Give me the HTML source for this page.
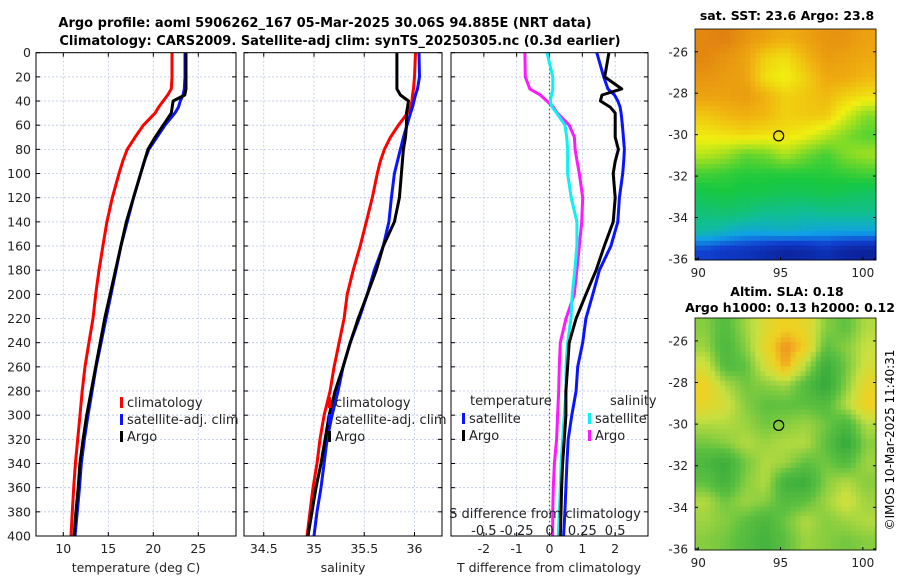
<!DOCTYPE html>
<html><head><meta charset="utf-8"><style>
body{margin:0;background:#fff;width:900px;height:580px;overflow:hidden}
svg{display:block;font-family:"DejaVu Sans","Liberation Sans",sans-serif}
</style></head><body>
<svg id="chart" width="900" height="580" viewBox="0 0 900 580" xmlns="http://www.w3.org/2000/svg">
<text x="325" y="27" font-size="13" font-weight="bold" text-anchor="middle">Argo profile: aoml 5906262_167 05-Mar-2025 30.06S 94.885E (NRT data)</text>
<text x="340" y="45" font-size="13" font-weight="bold" text-anchor="middle">Climatology: CARS2009. Satellite-adj clim: synTS_20250305.nc (0.3d earlier)</text>
<text x="787" y="20" font-size="12.5" font-weight="bold" text-anchor="middle">sat. SST: 23.6 Argo: 23.8</text>
<text x="787" y="296" font-size="12.5" font-weight="bold" text-anchor="middle">Altim. SLA: 0.18</text>
<text x="790" y="312" font-size="12.5" font-weight="bold" text-anchor="middle">Argo h1000: 0.13 h2000: 0.12</text>
<text transform="translate(894,440) rotate(-90)" font-size="12" text-anchor="middle">©IMOS 10-Mar-2025 11:40:31</text>
<g id="g"></g>
</svg>
<script>
const depths=[0,20,30,35,40,45,50,60,70,80,90,100,120,140,160,180,200,220,240,260,280,300,320,340,360,380,400];
const tClim=[22.08,22.08,22.0,21.6,21.1,20.6,20.2,18.9,17.97,17.1,16.6,16.19,15.45,14.85,14.4,13.97,13.6,13.3,12.85,12.41,12.1,11.86,11.6,11.35,11.15,11.0,10.86];
const tSat=[23.52,23.52,23.45,23.3,23.0,22.8,22.4,21.3,20.4,19.5,19.0,18.6,17.8,17.1,16.4,15.86,15.3,14.75,14.2,13.64,13.2,12.75,12.35,12.0,11.8,11.55,11.3];
const tArgo=[23.63,23.63,23.63,23.5,22.2,22.1,22.0,21.1,20.2,19.4,19.0,18.6,17.8,17.0,16.4,15.8,15.2,14.6,14.1,13.6,13.1,12.6,12.2,11.85,11.65,11.4,11.2];
const sClim=[36.01,36.0,35.99,35.98,35.975,35.96,35.93,35.84,35.76,35.70,35.66,35.63,35.58,35.52,35.46,35.39,35.33,35.30,35.25,35.20,35.16,35.10,35.06,35.03,34.99,34.96,34.93];
const sSat=[36.045,36.05,36.03,36.01,35.995,35.98,35.96,35.925,35.89,35.86,35.83,35.80,35.77,35.745,35.69,35.6,35.53,35.45,35.36,35.29,35.24,35.18,35.13,35.10,35.07,35.03,35.0];
const sArgo=[35.825,35.825,35.825,35.86,35.94,35.93,35.92,35.92,35.91,35.89,35.88,35.87,35.85,35.8,35.69,35.62,35.53,35.44,35.36,35.29,35.21,35.15,35.11,35.07,35.02,34.98,34.94];
const dTSat=[1.44,1.65,1.78,1.98,2.08,2.15,2.18,2.22,2.25,2.28,2.26,2.23,2.13,2.08,1.87,1.52,1.32,1.11,1.01,0.86,0.81,0.68,0.57,0.53,0.5,0.47,0.43];
const dTArgo=[1.81,1.68,2.2,1.6,1.55,1.85,2.0,2.0,2.0,2.1,2.0,1.94,2.0,1.94,1.67,1.42,1.11,0.81,0.6,0.55,0.5,0.5,0.45,0.4,0.37,0.35,0.33];
const dSSat=[-0.019,0.025,0.025,0.015,0.005,0.02,0.055,0.118,0.131,0.138,0.138,0.138,0.165,0.209,0.209,0.193,0.173,0.164,0.138,0.126,0.126,0.113,0.1,0.088,0.082,0.075,0.067];
const dSArgo=[-0.187,-0.184,-0.15,-0.07,-0.02,0.03,0.06,0.15,0.19,0.195,0.21,0.227,0.253,0.245,0.227,0.209,0.189,0.126,0.082,0.075,0.07,0.062,0.054,0.037,0.029,0.024,0.024];
const depthTicks=[0,20,40,60,80,100,120,140,160,180,200,220,240,260,280,300,320,340,360,380,400];
const tTicks=[10,15,20,25];
const sTicks=[34.5,35,35.5,36];
const dTTicks=[-2,-1,0,1,2];
const dSTickVals=[-0.5,-0.25,0,0.25,0.5];
const dSTickLabels=["-0.5","-0.25","0","0.25","0.5"];
const sstLonTicks=[90,95,100];
const latTicks=[-26,-28,-30,-32,-34,-36];
const sstGrid=[
[25.2,25.3,25.0,24.8,24.6,24.8,25.0,25.0,24.8],
[25.2,25.0,24.8,24.2,24.0,24.5,24.9,24.8,24.7],
[25.0,24.9,24.8,24.0,23.8,24.2,24.7,24.7,24.5],
[24.8,24.8,24.9,24.6,24.2,24.3,24.5,24.2,24.0],
[24.3,24.5,24.6,24.5,24.2,24.3,24.3,23.6,23.0],
[23.9,24.0,24.1,24.0,24.0,23.8,23.4,23.0,22.7],
[23.4,23.2,22.8,22.9,23.3,22.9,22.6,23.0,23.2],
[22.6,22.5,22.4,22.4,22.4,22.4,22.4,22.5,22.6],
[22.2,22.3,22.2,22.2,22.1,22.1,22.2,22.1,22.0],
[21.8,21.9,21.8,21.6,21.6,21.5,21.6,21.6,21.6],
[21.4,21.2,21.0,21.0,21.1,21.0,20.9,20.9,20.9],
[20.0,19.8,19.7,19.5,19.3,19.4,19.6,19.3,19.2]];
const slaGrid=[
[.5,.35,.55,.75,.85,.8,.5,.4,.6],
[.55,.3,.5,.8,1.0,.85,.4,.5,.65],
[.7,.35,.4,.7,.95,.6,.2,.45,.7],
[.85,.6,.45,.5,.55,.35,.15,.5,.8],
[.8,.7,.5,.4,.4,.4,.35,.6,.85],
[.6,.6,.55,.45,.5,.55,.45,.3,.6],
[.45,.5,.6,.55,.6,.6,.4,.15,.5],
[.3,.2,.45,.6,.55,.4,.45,.35,.55],
[.4,.25,.5,.6,.25,.2,.5,.6,.5],
[.6,.45,.55,.5,.35,.4,.55,.7,.55],
[.55,.5,.4,.3,.45,.6,.5,.55,.6],
[.5,.45,.35,.25,.4,.55,.5,.45,.5]];
const argoPos=[94.885,-30.06];

const NS='http://www.w3.org/2000/svg',G=document.getElementById('g');
function el(t,a,p){const e=document.createElementNS(NS,t);for(const k in a)e.setAttribute(k,a[k]);(p||G).appendChild(e);return e;}
function txt(s,x,y,a,p){const e=el('text',Object.assign({x:x,y:y,'font-size':12.5,fill:'#222'},a||{}),p);e.textContent=s;return e;}
const Y0=52.7,Y1=536;
const yD=d=>Y0+d*(Y1-Y0)/400;
function panel(name,x0,x1,xs,ticks,labels,showY){
  const g=el('g',{});
  
  
  depthTicks.forEach(d=>{const l=el('line',{x1:x0,x2:x1,y1:yD(d),y2:yD(d),stroke:'#b8c4e8','stroke-width':0.8,'stroke-dasharray':'2,2'},g);
    
    el('line',{x1:x0,x2:x0+4,y1:yD(d),y2:yD(d),stroke:'#000'},g);el('line',{x1:x1-4,x2:x1,y1:yD(d),y2:yD(d),stroke:'#000'},g);
    if(showY){const t=txt(String(d),x0-5,yD(d)+4.5,{'text-anchor':'end'},g);}});
  ticks.forEach((v,i)=>{const x=xs(v);const l=el('line',{x1:x,x2:x,y1:Y0,y2:Y1,stroke:'#b8c4e8','stroke-width':0.8,'stroke-dasharray':'2,2'},g);
    
    el('line',{x1:x,x2:x,y1:Y1,y2:Y1-4,stroke:'#000'},g);el('line',{x1:x,x2:x,y1:Y0,y2:Y0+4,stroke:'#000'},g);
    const t=txt(labels[i],x,Y1+17,{'text-anchor':'middle'},g);});
  return g;
}
function line(vals,xs,color,name,g){
  const d=vals.map((v,i)=>(i?'L':'M')+xs(v).toFixed(1)+','+yD(depths[i]).toFixed(1)).join('');
  const p=el('path',{d:d,fill:'none',stroke:color,'stroke-width':3,'stroke-linejoin':'round'},g);
  
  
}
function frame(x0,x1,g){el('rect',{x:x0,y:Y0,width:x1-x0,height:Y1-Y0,fill:'none',stroke:'#000','stroke-width':1},g);}
function legend(x,y,color,label,g){el('rect',{x:x,y:y-9,width:3,height:11,fill:color},g);
  const t=txt(label,x+7,y+1,{'font-size':13},g);}

const xT=v=>63.3+(v-10)*9;
const p1=panel('temperature-panel',36,236,xT,tTicks,tTicks.map(String),true);
line(tClim,xT,'#ff0000','temperature-climatology-line',p1);
line(tSat,xT,'#0a14ff','temperature-satellite-clim-line',p1);
line(tArgo,xT,'#000','temperature-argo-line',p1);
frame(36,236,p1);
legend(120,406,'#ff0000','climatology',p1);legend(120,423,'#0a14ff','satellite-adj. clim',p1);legend(120,440,'#000','Argo',p1);
txt('temperature (deg C)',136,572,{'text-anchor':'middle'},p1);

const xS=v=>314+(v-35)*100.5;
const p2=panel('salinity-panel',244,442,xS,sTicks,sTicks.map(String),false);
line(sClim,xS,'#ff0000','salinity-climatology-line',p2);
line(sSat,xS,'#0a14ff','salinity-satellite-clim-line',p2);
line(sArgo,xS,'#000','salinity-argo-line',p2);
frame(244,442,p2);
legend(328,406,'#ff0000','climatology',p2);legend(328,423,'#0a14ff','satellite-adj. clim',p2);legend(328,440,'#000','Argo',p2);
txt('salinity',343,572,{'text-anchor':'middle'},p2);

const xDT=v=>549.5+v*32.83, xDS=v=>549.5+v*131.3;
const p3=panel('difference-panel',451,648,xDT,dTTicks,dTTicks.map(String),false);
el('line',{x1:xDT(0),x2:xDT(0),y1:Y0,y2:Y1,stroke:'#355e2a','stroke-width':1.2,'stroke-dasharray':'1.5,2.5'},p3);
line(dSArgo,xDS,'#ff18ff','salinity-diff-argo-line',p3);
line(dSSat,xDS,'#10f0f0','salinity-diff-satellite-line',p3);
line(dTSat,xDT,'#0a14ff','temperature-diff-satellite-line',p3);
line(dTArgo,xDT,'#000','temperature-diff-argo-line',p3);
frame(451,648,p3);
txt('temperature',470,405,{'font-size':13},p3);
legend(462,422,'#0a14ff','satellite',p3);legend(462,439,'#000','Argo',p3);
txt('salinity',610,405,{'font-size':13},p3);
legend(588,422,'#10f0f0','satellite',p3);legend(588,439,'#ff18ff','Argo',p3);
txt('S difference from climatology',545,518,{'text-anchor':'middle','font-size':13},p3);
dSTickVals.forEach((v,i)=>{const t=txt(dSTickLabels[i],xDS(v),535,{'text-anchor':'middle','font-size':13},p3);});
txt('T difference from climatology',549,572,{'text-anchor':'middle'},p3);

function lerpC(stops,v){if(v<=stops[0][0])return stops[0][1];for(let i=1;i<stops.length;i++){if(v<=stops[i][0]){const a=stops[i-1],b=stops[i],t=(v-a[0])/(b[0]-a[0]);return [0,1,2].map(k=>Math.round(a[1][k]+(b[1][k]-a[1][k])*t));}}return stops[stops.length-1][1];}
const sstStops=[[19,[10,26,140]],[20,[16,64,208]],[20.8,[16,160,232]],[21.5,[16,190,150]],[22.3,[24,200,64]],[23.2,[160,224,32]],[23.8,[240,240,16]],[24.6,[240,176,16]],[25.3,[224,128,16]]];
const slaStops=[[0,[26,154,58]],[0.4,[92,192,64]],[0.65,[200,224,64]],[0.85,[240,208,32]],[1,[240,144,32]]];
function sample(grid,fr,fc){const R=grid.length,C=grid[0].length;
  fr=Math.max(0,Math.min(R-1,fr));fc=Math.max(0,Math.min(C-1,fc));
  const r0=Math.floor(fr),c0=Math.floor(fc),r1=Math.min(R-1,r0+1),c1=Math.min(C-1,c0+1),tr=fr-r0,tc=fc-c0;
  return grid[r0][c0]*(1-tr)*(1-tc)+grid[r0][c1]*(1-tr)*tc+grid[r1][c0]*tr*(1-tc)+grid[r1][c1]*tr*tc;}
function map(name,grid,stops,x0,y0,x1,y1,lat0,lat1){
  const g=el('g',{});
  const lonX=v=>x0+(v-89.8)*(x1-x0)/(100.8-89.8);
  const latY=v=>y0+(lat0-v)*(y1-y0)/(lat0-lat1);
  const R=grid.length,C=grid[0].length,S=4,NR=R*S,NC=C*S,cw=(x1-x0)/NC,ch=(y1-y0)/NR;
  for(let r=0;r<NR;r++)for(let c=0;c<NC;c++){
    const v=sample(grid,(r+0.5)/S-0.5,(c+0.5)/S-0.5);const col=lerpC(stops,v);
    const rc=el('rect',{x:(x0+c*cw).toFixed(1),y:(y0+r*ch).toFixed(1),width:(cw+0.5).toFixed(1),height:(ch+0.5).toFixed(1),fill:'rgb('+col.join(',')+')'},g);
    
    
  }
  el('rect',{x:x0,y:y0,width:x1-x0,height:y1-y0,fill:'none',stroke:'#000','stroke-width':0.8},g);
  latTicks.forEach(v=>{const y=latY(v);el('line',{x1:x0,x2:x0+3,y1:y,y2:y,stroke:'#000'},g);el('line',{x1:x1-3,x2:x1,y1:y,y2:y,stroke:'#000'},g);
    const t=txt(String(v),x0-7,y+4.5,{'text-anchor':'end','font-size':12},g);});
  sstLonTicks.forEach(v=>{const x=lonX(v);el('line',{x1:x,x2:x,y1:y1,y2:y1-3,stroke:'#000'},g);
    const t=txt(String(v),x,y1+17,{'text-anchor':'middle','font-size':12},g);});
  const m=el('circle',{cx:lonX(argoPos[0]),cy:latY(argoPos[1]),r:5,fill:'none',stroke:'#000','stroke-width':1.2},g);
  
  
}
map('sst-map',sstGrid,sstStops,695,29,876,260,-24.9,-36.05);
map('sla-map',slaGrid,slaStops,695,318,876,550,-24.9,-36.05);
</script>
</body></html>
